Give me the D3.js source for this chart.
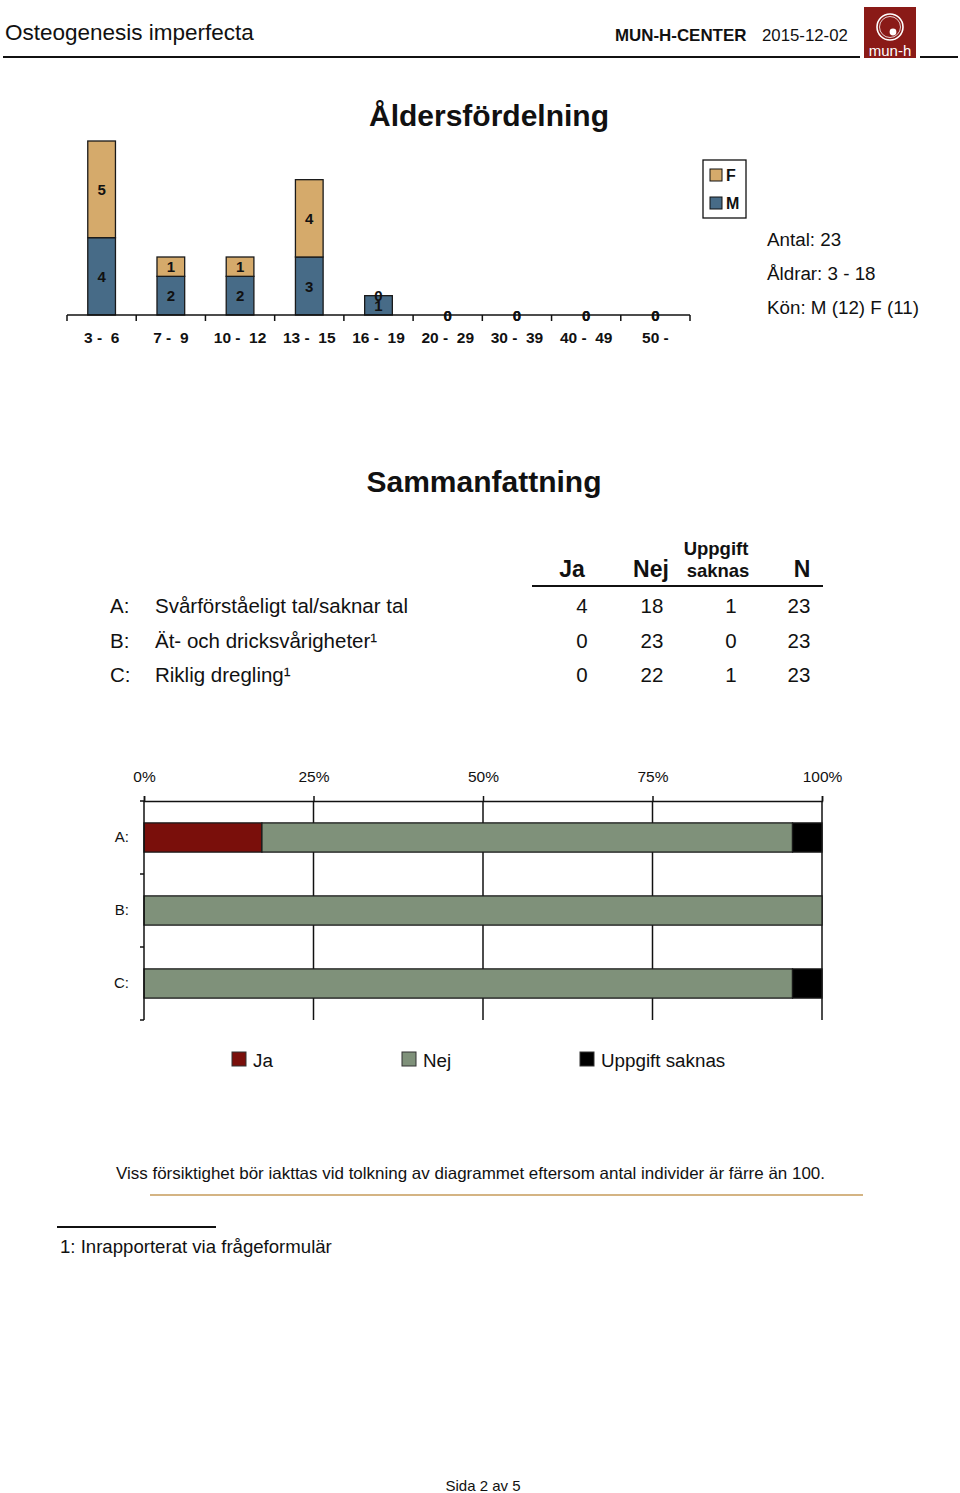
<!DOCTYPE html>
<html>
<head>
<meta charset="utf-8">
<script src="https://cdn.jsdelivr.net/npm/d3@7"></script>
<style>
  html, body { margin: 0; padding: 0; background: #fff; }
  svg { display: block; font-family: "Liberation Sans", Arial, Helvetica, sans-serif; }
  text { white-space: pre; }
</style>
</head>
<body>
<svg id="page" width="960" height="1493"></svg>
<script>
// ---------- Data ----------
const ageGroups = ["3 -  6", "7 -  9", "10 -  12", "13 -  15", "16 -  19", "20 -  29", "30 -  39", "40 -  49", "50 -"];
const maleCounts = [4, 2, 2, 3, 1, 0, 0, 0, 0];
const femaleCounts = [5, 1, 1, 4, 0, 0, 0, 0, 0];
const genderKeys = ["M", "F"];
const infoLines = ["Antal: 23", "Åldrar: 3 - 18", "Kön: M (12) F (11)"];

const rowLetters = ["A:", "B:", "C:"];
const questions = ["Svårförståeligt tal/saknar tal", "Ät- och dricksvårigheter¹", "Riklig dregling¹"];
const jaValues = [4, 0, 0];
const nejValues = [18, 23, 22];
const saknasValues = [1, 0, 1];
const nValues = [23, 23, 23];
const answerKeys = ["Ja", "Nej", "Uppgift saknas"];
const pctTicks = [0, 25, 50, 75, 100];

// ---------- Styles ----------
const colF = "#D5AA6B", colM = "#476B87";
const answerColors = { "Ja": "#7A0F0B", "Nej": "#7F917A", "Uppgift saknas": "#000000" };

const svg = d3.select("#page");

// ---------- Header ----------
svg.append("text").attr("x", 5).attr("y", 40).attr("font-size", 22.5).attr("fill", "#111").text("Osteogenesis imperfecta");
svg.append("text").attr("x", 615).attr("y", 41).attr("font-size", 16.9).attr("font-weight", "bold").attr("fill", "#111").text("MUN-H-CENTER");
svg.append("text").attr("x", 762).attr("y", 41).attr("font-size", 16.8).attr("fill", "#111").text("2015-12-02");
svg.append("line").attr("x1", 3).attr("x2", 860).attr("y1", 57).attr("y2", 57).attr("stroke", "#111").attr("stroke-width", 2);
svg.append("line").attr("x1", 920).attr("x2", 958).attr("y1", 57).attr("y2", 57).attr("stroke", "#111").attr("stroke-width", 2);
// logo
const logo = svg.append("g");
logo.append("rect").attr("x", 864).attr("y", 7).attr("width", 52).attr("height", 51).attr("fill", "#8A1A17");
logo.append("circle").attr("cx", 890).attr("cy", 27).attr("r", 13).attr("fill", "none").attr("stroke", "#fff").attr("stroke-width", 1.6);
logo.append("circle").attr("cx", 890).attr("cy", 27).attr("r", 10.5).attr("fill", "none").attr("stroke", "#fff").attr("stroke-width", 0.8);
logo.append("circle").attr("cx", 893).attr("cy", 32).attr("r", 3.4).attr("fill", "#fff");
logo.append("text").attr("x", 890).attr("y", 56).attr("text-anchor", "middle").attr("font-size", 15).attr("fill", "#fff").text("mun-h");

// ---------- Age chart ----------
svg.append("text").attr("x", 489).attr("y", 126).attr("text-anchor", "middle").attr("font-size", 30).attr("font-weight", "bold").attr("fill", "#111").text("Åldersfördelning");

const ageData = ageGroups.map((g, i) => ({ group: g, M: maleCounts[i], F: femaleCounts[i] }));
const stack = d3.stack().keys(genderKeys)(ageData);
const maxTotal = d3.max(ageData, d => d.M + d.F);

const xAge = d3.scaleBand().domain(ageGroups).range([67, 690]).paddingInner(0.6).paddingOuter(0.3);
const yAge = d3.scaleLinear().domain([0, maxTotal]).range([315, 141]);

const ageG = svg.append("g");
stack.forEach(layer => {
  const key = layer.key;
  ageG.selectAll(null).data(layer).enter().append("rect")
    .attr("x", d => xAge(d.data.group))
    .attr("width", xAge.bandwidth())
    .attr("y", d => yAge(d[1]))
    .attr("height", d => yAge(d[0]) - yAge(d[1]))
    .attr("fill", key === "F" ? colF : colM)
    .attr("stroke", "#1a1a1a").attr("stroke-width", 1.3)
    .style("display", d => d[1] - d[0] > 0 ? null : "none");
});
stack.forEach(layer => {
  ageG.selectAll(null).data(layer).enter().append("text")
    .attr("x", d => xAge(d.data.group) + xAge.bandwidth() / 2)
    .attr("y", d => (yAge(d[0]) + yAge(d[1])) / 2 + 5.5)
    .attr("text-anchor", "middle").attr("font-size", 15).attr("font-weight", "bold").attr("fill", "#111")
    .text(d => d[1] - d[0]);
});
// x axis
const ageAxis = svg.append("g").attr("transform", "translate(0,315)")
  .call(d3.axisBottom(xAge).tickSize(0).tickPadding(0));
ageAxis.select(".domain").remove();
ageAxis.selectAll("text").attr("dy", null).attr("y", 28).attr("font-size", 15.5).attr("font-weight", "bold").attr("fill", "#111")
  .attr("font-family", "Liberation Sans, Arial, sans-serif");
svg.append("line").attr("x1", 67).attr("x2", 690).attr("y1", 315).attr("y2", 315).attr("stroke", "#111").attr("stroke-width", 1.5);
const step = xAge.step();
const boundaries = d3.range(ageGroups.length + 1).map(i => 67 + i * step);
svg.selectAll(null).data(boundaries).enter().append("line")
  .attr("x1", d => d).attr("x2", d => d).attr("y1", 315).attr("y2", 321).attr("stroke", "#111").attr("stroke-width", 1.5);

// legend
svg.append("rect").attr("x", 703).attr("y", 160).attr("width", 43).attr("height", 58).attr("fill", "#fff").attr("stroke", "#111").attr("stroke-width", 1.3);
[["F", colF, 169], ["M", colM, 197]].forEach(([k, c, y]) => {
  svg.append("rect").attr("x", 710).attr("y", y).attr("width", 12).attr("height", 12).attr("fill", c).attr("stroke", "#111").attr("stroke-width", 1);
  svg.append("text").attr("x", 726).attr("y", y + 12).attr("font-size", 16).attr("font-weight", "bold").attr("fill", "#111").text(k);
});
infoLines.forEach((t, i) => {
  svg.append("text").attr("x", 767).attr("y", 246 + i * 34).attr("font-size", 18.8).attr("fill", "#111").text(t);
});

// ---------- Summary table ----------
svg.append("text").attr("x", 484).attr("y", 492).attr("text-anchor", "middle").attr("font-size", 30).attr("font-weight", "bold").attr("fill", "#111").text("Sammanfattning");
const hdr = [["Ja", 572, 577, 23], ["Nej", 651, 577, 23], ["Uppgift", 716, 555, 18.5], ["saknas", 718, 577, 18.5], ["N", 802, 577, 23]];
hdr.forEach(([t, x, y, s]) => {
  svg.append("text").attr("x", x).attr("y", y).attr("text-anchor", "middle").attr("font-size", s).attr("font-weight", "bold").attr("fill", "#111").text(t);
});
svg.append("line").attr("x1", 532).attr("x2", 823).attr("y1", 586).attr("y2", 586).attr("stroke", "#111").attr("stroke-width", 2);
const colX = [582, 652, 731, 799];
rowLetters.forEach((r, i) => {
  const y = 613 + i * 34.5;
  svg.append("text").attr("x", 110).attr("y", y).attr("font-size", 20.5).attr("fill", "#111").text(r);
  svg.append("text").attr("x", 155).attr("y", y).attr("font-size", 20.5).attr("fill", "#111").text(questions[i]);
  [jaValues[i], nejValues[i], saknasValues[i], nValues[i]].forEach((v, j) => {
    svg.append("text").attr("x", colX[j]).attr("y", y).attr("text-anchor", "middle").attr("font-size", 20.5).attr("fill", "#111").text(v);
  });
});

// ---------- Percent bar chart ----------
const xPct = d3.scaleLinear().domain([0, 100]).range([144, 822]);
const yRow = d3.scaleBand().domain(rowLetters).range([801, 1020]).paddingInner(0.6).paddingOuter(0.3);

// grid lines
svg.selectAll(null).data(pctTicks.slice(1)).enter().append("line")
  .attr("x1", d => xPct(d)).attr("x2", d => xPct(d)).attr("y1", 801).attr("y2", 1020)
  .attr("stroke", "#111").attr("stroke-width", 1.5);

const pctAxis = svg.append("g").attr("transform", "translate(0,801)")
  .call(d3.axisTop(xPct).tickValues(pctTicks).tickSize(5).tickPadding(14).tickFormat(d => d + "%"));
pctAxis.select(".domain").attr("stroke", "#111").attr("stroke-width", 1.5);
pctAxis.selectAll(".tick line").attr("stroke", "#111").attr("stroke-width", 1.5);
pctAxis.selectAll("text").attr("font-size", 15.5).attr("fill", "#111").attr("font-family", "Liberation Sans, Arial, sans-serif");

const pctData = rowLetters.map((r, i) => {
  const n = jaValues[i] + nejValues[i] + saknasValues[i];
  return { row: r, "Ja": jaValues[i] / n * 100, "Nej": nejValues[i] / n * 100, "Uppgift saknas": saknasValues[i] / n * 100 };
});
const pctStack = d3.stack().keys(answerKeys)(pctData);
pctStack.forEach(layer => {
  svg.selectAll(null).data(layer).enter().append("rect")
    .attr("x", d => xPct(d[0])).attr("width", d => xPct(d[1]) - xPct(d[0]))
    .attr("y", d => yRow(d.data.row)).attr("height", yRow.bandwidth())
    .attr("fill", answerColors[layer.key]).attr("stroke", "#1a1a1a").attr("stroke-width", 1.3)
    .style("display", d => d[1] - d[0] > 0 ? null : "none");
});

// left axis
const rowAxis = svg.append("g").attr("transform", "translate(144,0)")
  .call(d3.axisLeft(yRow).tickSize(0).tickPadding(15));
rowAxis.select(".domain").remove();
rowAxis.selectAll("text").attr("font-size", 15).attr("fill", "#111").attr("font-family", "Liberation Sans, Arial, sans-serif");
svg.append("line").attr("x1", 144).attr("x2", 144).attr("y1", 801).attr("y2", 1020).attr("stroke", "#111").attr("stroke-width", 1.5);
const rowBounds = d3.range(rowLetters.length + 1).map(i => 801 + i * yRow.step());
svg.selectAll(null).data(rowBounds).enter().append("line")
  .attr("x1", 140).attr("x2", 144).attr("y1", d => d).attr("y2", d => d).attr("stroke", "#111").attr("stroke-width", 1.5);

// legend
const legX = [232, 402, 580];
answerKeys.forEach((k, i) => {
  svg.append("rect").attr("x", legX[i]).attr("y", 1052).attr("width", 14).attr("height", 14)
    .attr("fill", answerColors[k]).attr("stroke", "#333").attr("stroke-width", 1);
  svg.append("text").attr("x", legX[i] + 21).attr("y", 1067).attr("font-size", 18.8).attr("fill", "#111").text(k);
});

// ---------- Notes ----------
svg.append("text").attr("x", 116).attr("y", 1179).attr("font-size", 16.5).attr("fill", "#111")
  .attr("textLength", 709).attr("lengthAdjust", "spacingAndGlyphs")
  .text("Viss försiktighet bör iakttas vid tolkning av diagrammet eftersom antal individer är färre än 100.");
svg.append("line").attr("x1", 150).attr("x2", 863).attr("y1", 1195).attr("y2", 1195).attr("stroke", "#D4B483").attr("stroke-width", 2);
svg.append("line").attr("x1", 57).attr("x2", 216).attr("y1", 1227).attr("y2", 1227).attr("stroke", "#111").attr("stroke-width", 2);
svg.append("text").attr("x", 60).attr("y", 1253).attr("font-size", 18.6).attr("fill", "#111").text("1: Inrapporterat via frågeformulär");
svg.append("text").attr("x", 483).attr("y", 1491).attr("text-anchor", "middle").attr("font-size", 15).attr("fill", "#111").text("Sida 2 av 5");
</script>
</body>
</html>
